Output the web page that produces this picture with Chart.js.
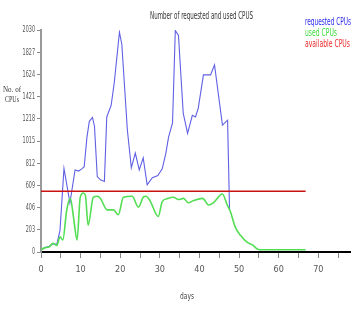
<!DOCTYPE html>
<html>
<head>
<meta charset="utf-8">
<script src="https://cdn.jsdelivr.net/npm/chart.js@4.4.1/dist/chart.umd.min.js"></script>
<style>
html,body{margin:0;padding:0;background:#fff;}
canvas{display:block;}
</style>
</head>
<body>
<canvas id="c" width="355" height="315"></canvas>
<script>
// ---- data ----
const chartTitle = "Number of requested and used CPUS";
const xTitle = "days";
const yTitleLines = ["No. of", "CPUs"];
const seriesNames = ["requested CPUs", "used CPUs", "available CPUs"];

const reqDays = [0, 1, 2, 3, 4, 4.8, 5.8, 7.3, 8.6, 9.5, 10.3, 10.9, 11.6, 12.2, 13, 13.5, 14.2, 15, 16, 16.6, 17.7, 18.5, 19.8, 20.4, 21.8, 22.8, 23.8, 24.8, 25.8, 26.8, 28.1, 29.5, 30.6, 31.5, 32.2, 33.2, 33.9, 34.7, 35.9, 37, 38.2, 39, 39.7, 41, 42.8, 43.8, 45.8, 47.1, 47.6];
const reqCPUs = [20, 40, 50, 75, 70, 200, 765, 450, 750, 740, 760, 780, 1050, 1195, 1230, 1150, 690, 660, 645, 1235, 1340, 1550, 2010, 1900, 1115, 770, 905, 750, 860, 615, 680, 700, 760, 900, 1050, 1180, 2025, 1980, 1270, 1085, 1250, 1235, 1315, 1620, 1620, 1710, 1160, 1205, 380];

const usedDays = [0, 1, 2, 3, 4, 4.8, 5.5, 6.5, 7.4, 8.2, 9.1, 9.9, 10.7, 11.2, 11.9, 13.2, 14.2, 15, 16.7, 18.3, 19.5, 20.8, 23, 24.6, 25.8, 26.5, 27.5, 29.6, 30.6, 32, 33.4, 34.7, 36, 37.2, 38.5, 40.8, 42.3, 43.5, 45.8, 47, 47.8, 49, 50.4, 52, 53.4, 54.7, 56, 60, 66.8];
const usedCPUs = [20, 40, 45, 80, 60, 140, 110, 385, 490, 320, 110, 500, 540, 520, 245, 500, 510, 490, 385, 385, 340, 500, 510, 410, 500, 510, 470, 325, 460, 490, 500, 480, 490, 450, 470, 490, 430, 450, 530, 430, 370, 230, 150, 90, 65, 25, 20, 20, 20];

const availDays = [0, 66.8];
const availCPUs = [555, 555];

const yTickValues = [0, 203, 406, 609, 812, 1015, 1218, 1421, 1624, 1827, 2030];
const xMin = 0, xMax = 78, xStep = 5, xLabelEvery = 10;

const colors = {req: "#6060e4", used: "#52de52", avail: "#cc1111"};
const legendColors = ["#2a2aee", "#3edc3e", "#ee2a2a"];
const legendWidths = [46, 32, 45];

function pts(xs, ys){ return xs.map((x,i)=>({x:x, y:ys[i]})); }

const NARROW = "'Liberation Sans Narrow', 'DejaVu Sans Condensed', 'Liberation Sans', sans-serif";

function fitText(ctx, text, x, y, targetW, align){
  const w = ctx.measureText(text).width;
  const s = Math.min(1, targetW / w);
  ctx.save();
  ctx.translate(x, y);
  ctx.scale(s, 1);
  ctx.textAlign = align || 'left';
  ctx.fillText(text, 0, 0);
  ctx.restore();
}

const textPlugin = {
  id: 'texts',
  afterDraw(chart){
    const ctx = chart.ctx;
    ctx.save();
    ctx.textBaseline = 'middle';
    // title
    ctx.fillStyle = '#333';
    ctx.font = "10px " + NARROW;
    fitText(ctx, chartTitle, 150, 16, 103, 'left');
    // legend (text only, coloured)
    const ly = [22, 33, 44];
    seriesNames.forEach((n,i)=>{
      ctx.fillStyle = legendColors[i];
      ctx.font = "10px " + NARROW;
      fitText(ctx, n, 305, ly[i], legendWidths[i], 'left');
    });
    // y tick labels (narrow, right-aligned)
    const ys = chart.scales.y;
    ctx.fillStyle = '#555';
    ctx.font = "9px " + NARROW;
    yTickValues.forEach(v => {
      const py = ys.getPixelForValue(v);
      const t = String(v);
      fitText(ctx, t, 35, py, t.length * 3.1, 'right');
    });
    // y title
    ctx.fillStyle = '#333';
    ctx.font = "9px 'Liberation Serif', 'DejaVu Serif', serif";
    fitText(ctx, yTitleLines[0], 12, 90, 18, 'center');
    fitText(ctx, yTitleLines[1], 12, 100, 14, 'center');
    // x title
    ctx.font = "9px " + NARROW;
    ctx.fillStyle = '#444';
    fitText(ctx, xTitle, 187, 297, 14, 'center');
    ctx.restore();
  }
};

new Chart(document.getElementById('c'), {
  type: 'line',
  data: {
    datasets: [
      {label: seriesNames[0], data: pts(reqDays, reqCPUs), borderColor: colors.req, borderWidth: 1.1, pointRadius: 0, tension: 0, fill: false, order: 3},
      {label: seriesNames[1], data: pts(usedDays, usedCPUs), borderColor: colors.used, borderWidth: 1.6, pointRadius: 0, cubicInterpolationMode: 'monotone', fill: false, order: 2},
      {label: seriesNames[2], data: pts(availDays, availCPUs), borderColor: colors.avail, borderWidth: 1.5, pointRadius: 0, tension: 0, fill: false, order: 1}
    ]
  },
  options: {
    responsive: false,
    animation: false,
    devicePixelRatio: 1,
    layout: {padding: {top: 30, right: 5, left: 0, bottom: 0}},
    plugins: {legend: {display: false}, title: {display: false}, tooltip: {enabled: false}},
    scales: {
      x: {
        type: 'linear', min: xMin, max: xMax,
        afterFit: s => { s.height = 63; },
        afterBuildTicks: s => {
          const t = [];
          for (let v = xMin; v <= xMax; v += xStep) t.push({value: v});
          s.ticks = t;
        },
        ticks: {
          callback: v => (v % xLabelEvery === 0 ? String(v) : ''),
          autoSkip: false, maxRotation: 0,
          color: '#555', padding: 6,
          font: {family: NARROW, size: 9}
        },
        grid: {drawOnChartArea: false, drawTicks: true, tickLength: 6, color: '#888', lineWidth: 1},
        border: {display: true, color: '#000', width: 2}
      },
      y: {
        type: 'linear', min: 0, max: 2030,
        afterFit: s => { s.width = 41; },
        afterBuildTicks: s => { s.ticks = yTickValues.map(v => ({value: v})); },
        ticks: {
          autoSkip: false, color: 'rgba(0,0,0,0)', padding: 2,
          callback: v => String(v),
          font: {family: NARROW, size: 9}
        },
        grid: {drawOnChartArea: false, drawTicks: true, tickLength: 4, color: '#888', lineWidth: 1},
        border: {display: true, color: '#999', width: 2}
      }
    }
  },
  plugins: [textPlugin]
});
</script>
</body>
</html>
